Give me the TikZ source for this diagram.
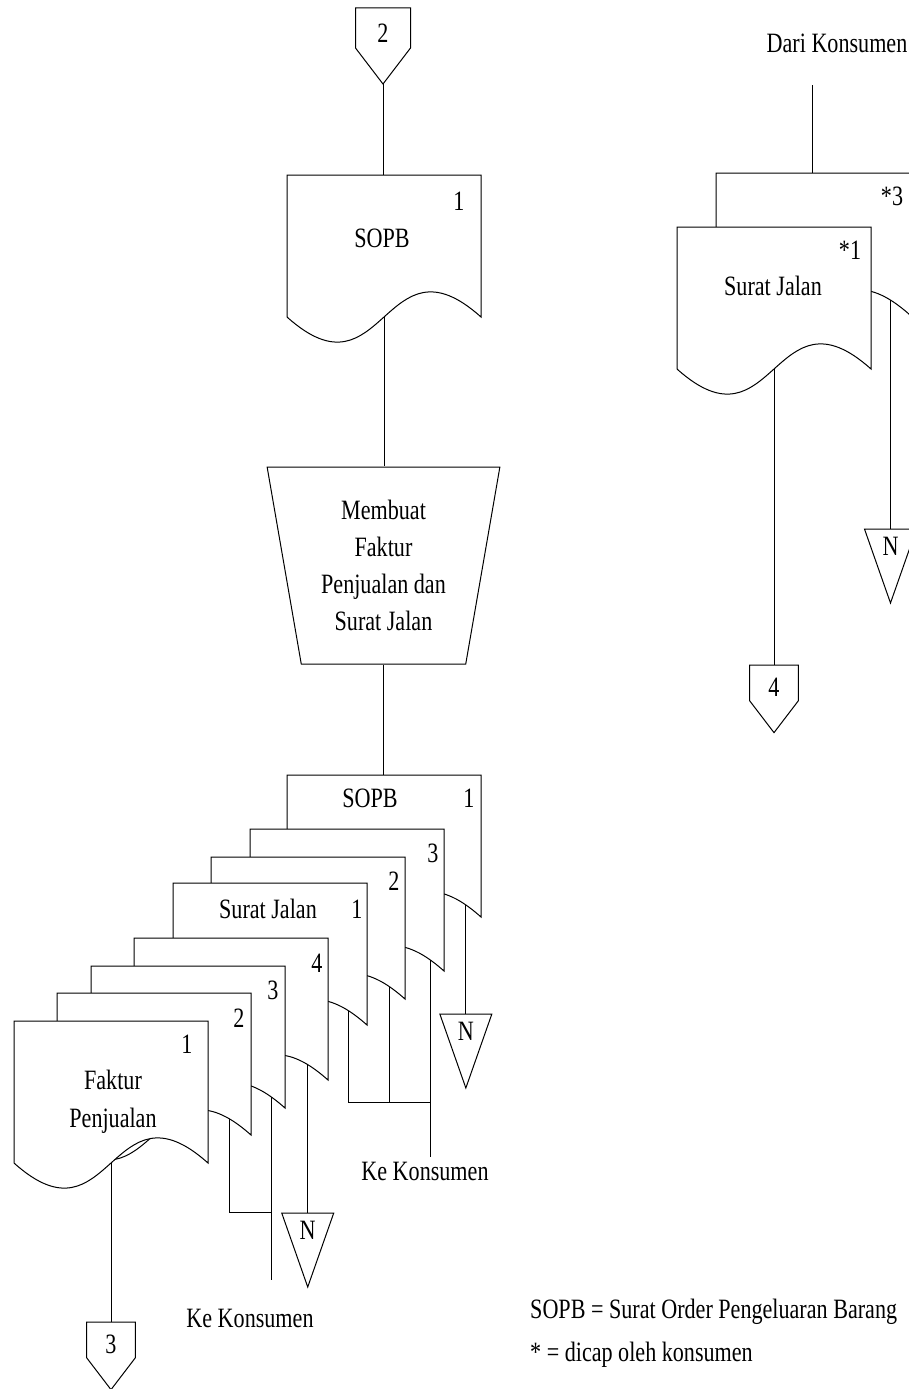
\documentclass[tikz,border=0pt]{standalone}
\usepackage{fontspec}
\setmainfont{Liberation Serif}[FakeStretch=0.79]
\usetikzlibrary{shapes.geometric}
\tikzset{
  flow/.style={line width=1pt},
  txt/.style={font=\fontsize{28}{37}\selectfont, inner sep=0pt, text height=0.66em, text depth=0pt, yshift=-4pt},
  % document symbol: (-tap) sits on the wavy edge at the given curve time, (-mid) in the middle
  doc/.pic={
    \draw[flow, fill=white] (0,0) -- (194,0) -- (194,142)
      .. controls (97,55) and (97,229) .. (0,142)
      coordinate[pos=#1] (-tap) coordinate[pos=0.5] (-mid) -- cycle;
    \coordinate (-topmid) at (97,0);
  },
  % off-page connector
  offpage/.pic={
    \draw[flow, fill=white] (-27.5,0) -- (27.5,0) -- (27.5,40) -- (0,76) -- (-27.5,40) -- cycle;
    \coordinate (-top) at (0,0);
    \coordinate (-tip) at (0,76);
    \node[txt] (-lbl) at (0,27) {#1};
  },
  % file symbol
  merge/.pic={
    \draw[flow, fill=white] (-26,0) -- (26,0) -- (0,74) -- cycle;
    \coordinate (-top) at (0,0);
    \node[txt] (-lbl) at (0,19) {N};
  },
}
\begin{document}
\begin{tikzpicture}[x=1pt, y=-1pt]
\path[use as bounding box] (0,0) rectangle (909,1389);

% ---- order document and processing
\pic (c2) at (383,8) {offpage=2};
\pic (sopb) at (287,175) {doc=0.055};
\node[txt] (sopb-no) at (459,203) {1};
\node[txt] (sopb-lb) at (382,240) {SOPB};
\draw[flow] (c2-tip) -- (c2-tip |- sopb-topmid);

\node[trapezium, draw, flow, shape border rotate=180,
      trapezium left angle=78.8, trapezium right angle=78.8, trapezium stretches=true,
      minimum width=233pt, minimum height=197pt, inner sep=0pt, align=center,
      font=\fontsize{28}{37}\selectfont] (proc) at (383.5,565.5)
      {Membuat\\Faktur\\Penjualan dan\\Surat Jalan};
\draw[flow] (sopb-mid) -- (sopb-mid |- proc.north);

% ---- stack of copies
\pic (d1) at (287,775) {doc=0.055};
\pic (d2) at (250,829) {doc=0.047};
\pic (d3) at (211,857) {doc=0.055};
\pic (d4) at (173,883) {doc=0.068};
\pic (d5) at (134,938) {doc=0.075};
\pic (d6) at (91,966) {doc=0.05};
\pic (d7) at (57,993) {doc=0.08};
\pic (d8) at (14,1021) {doc=0.055};
\draw[flow] (proc.south) -- (proc.south |- d1-topmid);

\node[txt] (d1-lb) at (370,800) {SOPB};
\node[txt] (d1-no) at (469,800) {1};
\node[txt] (d2-no) at (433,855) {3};
\node[txt] (d3-no) at (394,883) {2};
\node[txt] (d4-lb) at (268,911) {Surat Jalan};
\node[txt] (d4-no) at (357,911) {1};
\node[txt] (d5-no) at (317,965) {4};
\node[txt] (d6-no) at (273,992) {3};
\node[txt] (d7-no) at (239,1020) {2};
\node[txt] (d8-no) at (187,1046) {1};
\node[txt] (d8-lb1) at (113,1082) {Faktur};
\node[txt] (d8-lb2) at (113,1120) {Penjualan};

% SOPB copy to file
\pic (n1) at (d1-tap |- 0,1014) {merge};
\draw[flow] (d1-tap) -- (n1-top);

% copies 2, 3 and Surat Jalan 1 to the customer
\coordinate (j1) at (d4-tap |- 0,1102);
\coordinate (j2) at (d2-tap |- 0,1102);
\coordinate (ke1-end) at (d2-tap |- 0,1157);
\draw[flow] (d4-tap) -- (j1) -- (j2);
\draw[flow] (d3-tap) -- (d3-tap |- j1);
\draw[flow] (d2-tap) -- (ke1-end);
\node[txt] (ke1) at (425,1173) {Ke Konsumen};

% invoice copies 2 and 3 to the customer
\coordinate (j3) at (d7-tap |- 0,1212);
\coordinate (j4) at (d6-tap |- 0,1212);
\coordinate (ke2-end) at (d6-tap |- 0,1280);
\draw[flow] (d7-tap) -- (j3) -- (j4);
\draw[flow] (d6-tap) -- (ke2-end);
\node[txt] (ke2) at (250,1320) {Ke Konsumen};

% Surat Jalan 4 to file
\pic (n2) at (d5-tap |- 0,1213) {merge};
\draw[flow] (d5-tap) -- (n2-top);

% invoice 1 to connector 3
\pic[scale=0.89] (c3) at (d8-mid |- 0,1322) {offpage=3};
\draw[flow] (d8-mid) -- (c3-top);

% ---- returned delivery note
\node[txt] (dari) at (837,45) {Dari Konsumen};
\coordinate (dari-end) at (812,85);
\pic (r2) at (716,173) {doc=0.072};
\pic (r1) at (677,227) {doc=0.055};
\draw[flow] (dari-end) -- (dari-end |- r2-topmid);
\node[txt] (r2-no) at (892,198) {*3};
\node[txt] (r1-no) at (850,252) {*1};
\node[txt] (r1-lb) at (773,288) {Surat Jalan};

\pic (n3) at (r2-tap |- 0,529) {merge};
\draw[flow] (r2-tap) -- (n3-top);
\pic[scale=0.89] (c4) at (r1-mid |- 0,665) {offpage=4};
\draw[flow] (r1-mid) -- (c4-top);

% ---- legend
\node[txt, anchor=west] (leg1) at (530,1311) {SOPB = Surat Order Pengeluaran Barang};
\node[txt, anchor=west] (leg2) at (530,1354) {* = dicap oleh konsumen};
\end{tikzpicture}
\end{document}
